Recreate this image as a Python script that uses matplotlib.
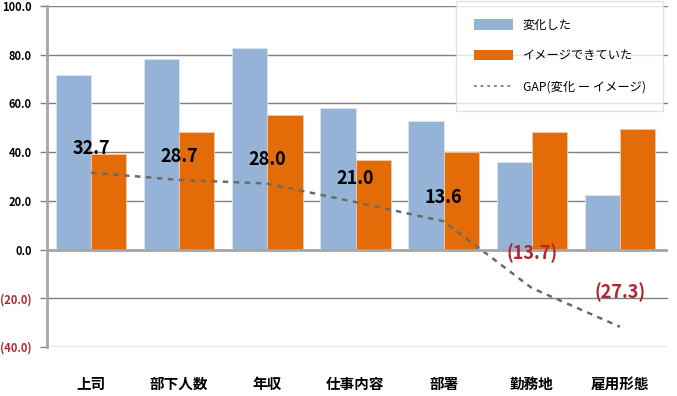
import numpy as np
import matplotlib
matplotlib.use("Agg")
from matplotlib import pyplot as plt
from matplotlib.patches import Patch
from matplotlib.lines import Line2D

plt.rcParams['font.family'] = ['Noto Sans CJK JP', 'DejaVu Sans']

categories = ["上司", "部下人数", "年収", "仕事内容", "部署", "勤務地", "雇用形態"]
changed = [71.6, 78.1, 82.9, 58.1, 52.7, 35.8, 22.6]
imagined = [39.3, 48.2, 55.2, 36.9, 39.9, 48.2, 49.7]
gap_line = [31.6, 28.6, 27.1, 19.5, 11.6, -15.8, -31.7]
gap_labels = [32.7, 28.7, 28.0, 21.0, 13.6, -13.7, -27.3]
yticks = [-40, -20, 0, 20, 40, 60, 80, 100]

blue = "#95B3D7"
orange = "#E36C09"
red = "#B0262E"

fig = plt.figure(figsize=(6.77, 3.96), dpi=100)
ax = fig.add_axes([47/677, 1-347/396, (668-47)/677, (347-6)/396])

x = np.arange(len(categories))
w = 0.4
ax.bar(x - w/2, changed, w, color=blue, edgecolor="#dde6f1", linewidth=0.6, zorder=3)
ax.bar(x + w/2, imagined, w, color=orange, edgecolor="#f6c9a6", linewidth=0.6, zorder=3)
ax.plot(x, gap_line, color="#6b6b6b", linestyle=(0, (2.2, 2.2)), linewidth=1.8, zorder=4)

for i, v in enumerate(gap_labels):
    if v >= 0:
        txt, col, off = f"{v:.1f}", "black", 17
    else:
        txt, col, off = f"({-v:.1f})", red, 25
    ax.annotate(txt, (x[i], gap_line[i]), xytext=(0, off), textcoords="offset points",
                ha="center", va="center", fontsize=13, fontweight="bold", color=col, zorder=5)

ax.set_xlim(-0.5, 6.545)
ax.set_ylim(-40, 100)
ax.set_yticks(yticks)
ax.set_yticklabels([f"({-t:.1f})" if t < 0 else f"{t:.1f}" for t in yticks],
                   fontsize=8, fontweight="bold")
for lab, t in zip(ax.get_yticklabels(), yticks):
    if t < 0:
        lab.set_color(red)
ax.set_xticks(x)
ax.set_xticklabels(categories, fontsize=10.5, fontweight="bold")
ax.tick_params(axis="x", length=0, pad=21)
ax.tick_params(axis="y", length=5, width=1, color="#808080", pad=6)

for t in yticks:
    if t == 0:
        ax.axhline(t, color="#a6a6a6", linewidth=2, zorder=4)
    else:
        ax.axhline(t, color="#808080", linewidth=1, zorder=1)

for s in ["top", "right", "bottom"]:
    ax.spines[s].set_visible(False)
ax.spines["left"].set_color("#a6a6a6")
ax.spines["left"].set_linewidth(2)

handles = [Patch(facecolor=blue, edgecolor="none"),
           Patch(facecolor=orange, edgecolor="none"),
           Line2D([0], [0], color="#7a7a7a", linestyle=(0, (1.5, 2.2)), linewidth=1.3)]
labels = ["変化した", "イメージできていた", "GAP(変化 ー イメージ)"]
leg = fig.legend(handles, labels, loc="upper left", bbox_to_anchor=(456/677, 1-1/396),
                 bbox_transform=fig.transFigure, fontsize=8.8, handlelength=3.2,
                 handleheight=0.9, labelspacing=1.45, borderpad=1.45, handletextpad=0.8,
                 frameon=True, fancybox=False, borderaxespad=0)
leg.get_frame().set_edgecolor("#d9d9d9")
leg.get_frame().set_linewidth(1)
leg.set_zorder(10)

fig.savefig("out.png", dpi=100)
